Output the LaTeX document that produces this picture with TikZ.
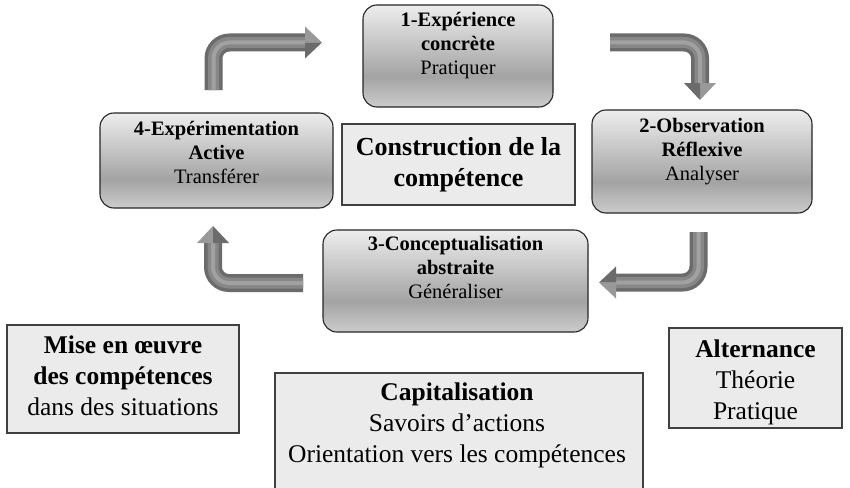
\documentclass[tikz,border=0pt]{standalone}
\usepackage{fontspec}
\setmainfont{Liberation Serif}
\pgfdeclareverticalshading{cycshade}{100bp}{color(0bp)=(black!20); color(25bp)=(black!20); color(40bp)=(black!36); color(75bp)=(black!7); color(100bp)=(black!7)}
\begin{document}
\begin{tikzpicture}[x=1pt,y=1pt]
\tikzset{
  cycbox/.style={shade, shading=cycshade, draw=black!85, line width=1.1pt, rounded corners=14pt, inner sep=0pt},
  cyctext/.style={align=center, font=\fontsize{20.5}{24}\selectfont, inner sep=0pt},
  greybox/.style={draw=black!75, line width=1.3pt, fill=black!8, inner sep=0pt},
  bigtext/.style={align=center, font=\fontsize{25.5}{31}\selectfont, inner sep=0pt},
  shaftout/.style={line width=18pt, draw=black!58, rounded corners=16pt},
  shaftmid/.style={line width=11pt, draw=black!47, rounded corners=16pt},
  shafthi/.style={line width=4pt, draw=black!37, rounded corners=16pt},
  headtip/.pic={
    \fill[black!40] (0,16) -- (17,0) -- (0,0) -- cycle;
    \fill[black!58] (0,0) -- (17,0) -- (0,-16) -- cycle;
  }
}
\clip (0,0) rectangle (850,-487);
\fill[white] (0,0) rectangle (850,-487);

% cycle boxes
\node[cycbox, minimum width=190pt, minimum height=102pt] (b1) at (458,-56) {};
\node[cycbox, minimum width=220pt, minimum height=103pt] (b2) at (702,-161.5) {};
\node[cycbox, minimum width=265pt, minimum height=102pt] (b3) at (455.5,-281) {};
\node[cycbox, minimum width=233pt, minimum height=95pt] (b4) at (216.5,-160.5) {};

\node[cyctext] (t1) at ([yshift=10pt]b1.center) {\textbf{1-Expérience}\\\textbf{concrète}\\Pratiquer};
\node[cyctext] (t2) at ([yshift=10pt]b2.center) {\textbf{2-Observation}\\\textbf{Réflexive}\\Analyser};
\node[cyctext] (t3) at ([yshift=14pt]b3.center) {\textbf{3-Conceptualisation}\\\textbf{abstraite}\\Généraliser};
\node[cyctext] (t4) at ([yshift=8pt]b4.center) {\textbf{4-Expérimentation}\\\textbf{Active}\\Transférer};

% centre box
\node[greybox, minimum width=233pt, minimum height=81pt, align=center,
      font=\fontsize{26}{31}\selectfont\bfseries] (cen) at (458.5,-164.5) {Construction de la\\compétence};

% bottom boxes
\node[greybox, minimum width=232pt, minimum height=108pt] (mise) at (123,-379) {};
\node[bigtext] (miset) at ([yshift=3pt]mise.center) {\textbf{Mise en œuvre}\\\textbf{des compétences}\\dans des situations};
\node[greybox, minimum width=173pt, minimum height=100pt] (alt) at (755.5,-378) {};
\node[bigtext] (altt) at ([yshift=-4pt]alt.center) {\textbf{Alternance}\\Théorie\\Pratique};
\node[greybox, minimum width=368pt, minimum height=140pt] (cap) at (459,-443) {};
\node[bigtext] (capt) at (457,-425.5) {\textbf{Capitalisation}\\Savoirs d’actions\\Orientation vers les compétences};

% arrows
\coordinate (a1) at (213.5,-90);
\coordinate (a2) at (305,-42.5);
\coordinate (c1) at (610,-42.5);
\coordinate (c2) at (700,-83);
\coordinate (e1) at (698.5,-232);
\coordinate (e2) at (616,-282.5);
\coordinate (d1) at (303,-283);
\coordinate (d2) at (213,-243);

\foreach \s in {shaftout,shaftmid,shafthi}{
  \draw[\s] (a1) |- (a2);
  \draw[\s] (c1) -| (c2);
  \draw[\s] (e1) |- (e2);
  \draw[\s] (d1) -| (d2);
}
\pic at (a2) {headtip};
\pic[rotate=-90] at (c2) {headtip};
\pic[rotate=180] at (e2) {headtip};
\pic[rotate=90] at (d2) {headtip};
\end{tikzpicture}
\end{document}
